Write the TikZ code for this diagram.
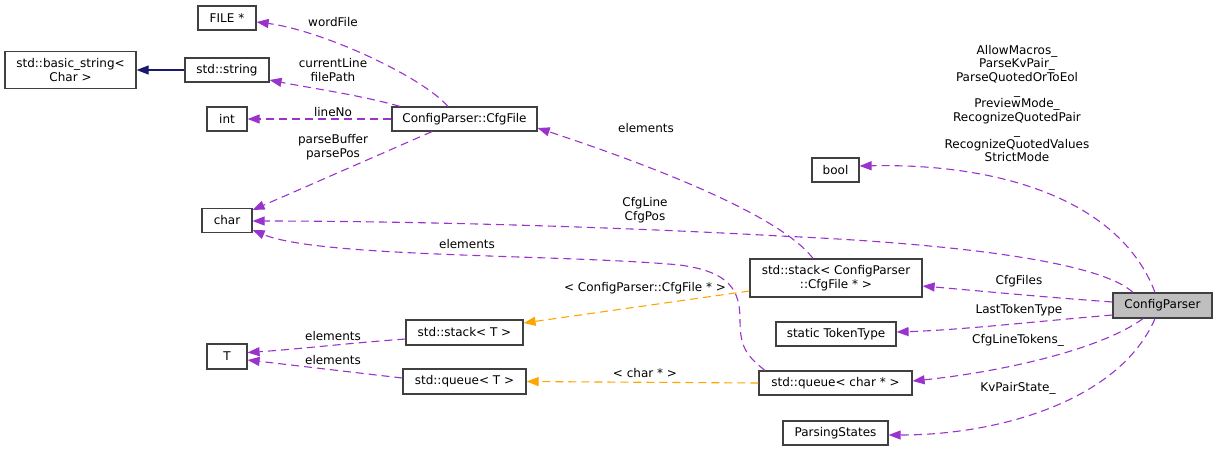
\documentclass[tikz,border=0pt]{standalone}
\usepackage{fontspec}
\setmainfont{DejaVu Sans}
\usetikzlibrary{arrows.meta,calc}
\definecolor{dep}{HTML}{9A32CD}
\definecolor{tmpl}{HTML}{FFA500}
\definecolor{inh}{HTML}{191970}
\definecolor{bord}{HTML}{404040}
\tikzset{
  cls/.style={draw=bord, line width=1.2pt, inner sep=0pt, align=center, font=\fontsize{12}{13.4}\selectfont},
  lbl/.style={inner sep=0pt, align=center, font=\fontsize{12}{13.4}\selectfont},
  depline/.style={-{Triangle[length=12pt,width=9pt,fill=dep]}, draw=dep, line width=1.1pt, dash pattern=on 8pt off 5pt},
  tmplline/.style={-{Triangle[length=12pt,width=9pt,fill=tmpl]}, draw=tmpl, line width=1.1pt, dash pattern=on 8pt off 5pt},
  inhline/.style={-{Triangle[length=12pt,width=9pt,fill=inh]}, draw=inh, line width=1.1pt},
}
\begin{document}
\begin{tikzpicture}[x=1pt,y=-1pt]
\useasboundingbox (0,0) rectangle (1217,451);
% nodes
\node[cls, minimum width=58, minimum height=24] (file) at (227,18) {FILE *};
\node[cls, minimum width=131, minimum height=37] (bstr) at (70.5,70) {std::basic\_string<\\Char >};
\node[cls, minimum width=84, minimum height=24] (str) at (227,70) {std::string};
\node[cls, minimum width=40, minimum height=24] (int) at (227,119) {int};
\node[cls, minimum width=50, minimum height=24] (char) at (227,220.5) {char};
\node[cls, minimum width=145, minimum height=24] (cfgfile) at (464.5,119) {ConfigParser::CfgFile};
\node[cls, minimum width=47, minimum height=24] (bool) at (835.5,170) {bool};
\node[cls, minimum width=172, minimum height=38] (stackcfg) at (836,278) {std::stack< ConfigParser\\::CfgFile * >};
\node[cls, fill=black!25, minimum width=99, minimum height=25] (cp) at (1162.5,305.5) {ConfigParser};
\node[cls, minimum width=120, minimum height=24] (tok) at (836,334) {static TokenType};
\node[cls, minimum width=153, minimum height=24] (qchar) at (835.5,383) {std::queue< char * >};
\node[cls, minimum width=105, minimum height=24] (ps) at (835.5,433) {ParsingStates};
\node[cls, minimum width=40, minimum height=25] (T) at (227,356.5) {T};
\node[cls, minimum width=117, minimum height=25] (stackT) at (464.5,332.5) {std::stack< T >};
\node[cls, minimum width=123, minimum height=25] (queueT) at (464.5,381.5) {std::queue< T >};
% labels
\node[lbl] (l1) at (333,22) {wordFile};
\node[lbl] (l2) at (333,70) {currentLine\\filePath};
\node[lbl] (l3) at (333,112) {lineNo};
\node[lbl] (l4) at (333,147) {parseBuffer\\parsePos};
\node[lbl] (l5) at (646,128) {elements};
\node[lbl] (l6) at (645,210) {CfgLine\\CfgPos};
\node[lbl] (l7) at (467,244) {elements};
\node[lbl] (l8) at (645,288) {< ConfigParser::CfgFile * >};
\node[lbl] (l9) at (1017,103.5) {AllowMacros\_\\ParseKvPair\_\\ParseQuotedOrToEol\\\_\\PreviewMode\_\\RecognizeQuotedPair\\\_\\RecognizeQuotedValues\\StrictMode};
\node[lbl] (l10) at (1019,281) {CfgFiles};
\node[lbl] (l11) at (1019,310) {LastTokenType};
\node[lbl] (l12) at (1018,340) {CfgLineTokens\_};
\node[lbl] (l13) at (1018,388) {KvPairState\_};
\node[lbl] (l14) at (333,336) {elements};
\node[lbl] (l15) at (333,360) {elements};
\node[lbl] (l16) at (645,373) {< char * >};
% edges
\draw[inhline] (str.west) -- (bstr.east);
\draw[depline] ([xshift=-16.5pt]cfgfile.north) .. controls (420,75) and (320,30) .. ([yshift=-4pt]file.east);
\draw[depline] ([xshift=-64.5pt]cfgfile.north) .. controls (360,95) and (310,88) .. ([yshift=-10pt]str.east);
\draw[depline] (cfgfile.west) -- (int.east);
\draw[depline] ([xshift=-32.5pt]cfgfile.south) -- ([yshift=10.5pt]char.east);
\draw[depline] ([xshift=-29.5pt]cp.north) .. controls (1100,262) and (960,244) .. (780,236) .. controls (600,226) and (400,221) .. ([yshift=-0.5pt]char.east);
\draw[depline] ([xshift=-70.5pt]qchar.north) .. controls (745,355) and (740,345) .. (740,320) .. controls (740,290) and (730,272) .. (680,265) .. controls (560,254) and (320,258) .. ([yshift=-9.5pt]char.east);
\draw[depline] ([xshift=-23pt]stackcfg.north) .. controls (780,215) and (650,165) .. ([yshift=-9pt]cfgfile.east);
\draw[depline] ([xshift=-7.5pt]cp.north) .. controls (1120,200) and (1000,163) .. ([yshift=4pt]bool.east);
\draw[depline] ([yshift=3.5pt]cp.west) .. controls (1030,296) and (970,290) .. ([yshift=-8pt]stackcfg.east);
\draw[depline] ([yshift=-9.5pt]cp.west) .. controls (1030,322) and (960,330) .. ([yshift=2pt]tok.east);
\draw[depline] ([xshift=-19.5pt]cp.south) .. controls (1100,350) and (1000,372) .. ([yshift=2pt]qchar.east);
\draw[depline] ([xshift=-7.5pt]cp.south) .. controls (1120,400) and (1000,435) .. ([yshift=-2pt]ps.east);
\draw[tmplline] ([yshift=-13pt]stackcfg.west) -- ([yshift=9.5pt]stackT.east);
\draw[tmplline] (qchar.west) -- (queueT.east);
\draw[depline] ([yshift=-6.5pt]stackT.west) .. controls (350,343) and (300,349) .. ([yshift=4pt]T.east);
\draw[depline] ([yshift=3.5pt]queueT.west) .. controls (350,372) and (300,366) .. ([yshift=-3.5pt]T.east);
\end{tikzpicture}
\end{document}
